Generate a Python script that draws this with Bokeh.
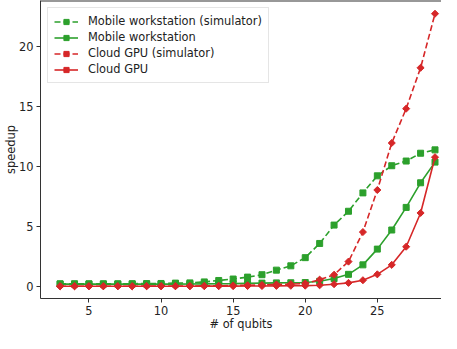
import math
from bokeh.plotting import figure
from bokeh.models import Range1d, FixedTicker, Legend, LegendItem, Span
from bokeh.embed import file_html
from bokeh.resources import INLINE

qubits = list(range(3, 30))
mobile_sim = [0.22, 0.22, 0.22, 0.22, 0.22, 0.23, 0.24, 0.25, 0.28, 0.30, 0.38, 0.50, 0.62,
              0.78, 0.98, 1.36, 1.72, 2.40, 3.58, 5.11, 6.26, 7.79, 9.21, 10.05, 10.44, 11.09, 11.37]
mobile = [0.20, 0.20, 0.20, 0.20, 0.20, 0.20, 0.20, 0.20, 0.20, 0.21, 0.22, 0.23, 0.24,
          0.26, 0.28, 0.30, 0.31, 0.33, 0.43, 0.66, 1.01, 1.80, 3.11, 4.70, 6.58, 8.63, 10.35]
cloud_sim = [0.02, 0.02, 0.02, 0.02, 0.02, 0.02, 0.03, 0.03, 0.03, 0.04, 0.05, 0.06, 0.08,
             0.10, 0.13, 0.17, 0.20, 0.25, 0.57, 0.98, 2.07, 4.53, 8.03, 11.94, 14.80, 18.20, 22.70]
cloud = [0.02, 0.02, 0.02, 0.02, 0.02, 0.02, 0.02, 0.02, 0.02, 0.02, 0.03, 0.03, 0.03,
         0.04, 0.04, 0.05, 0.06, 0.07, 0.10, 0.19, 0.30, 0.52, 1.01, 1.80, 3.31, 6.12, 10.76]
x_ticks = [5, 10, 15, 20, 25, 30]
y_ticks = [0, 5, 10, 15, 20]
x_label = "# of qubits"
y_label = "speedup"

GREEN = "#2ca02c"
RED = "#d62728"
FONT = "DejaVu Sans"
TXT = "#222222"
X0, X1 = 1.64, 29.45
Y0, Y1 = -1.0, 23.8

p = figure(width=441, height=333, output_backend="svg", toolbar_location=None,
           x_range=Range1d(X0, X1), y_range=Range1d(Y0, Y1),
           min_border_left=40, min_border_right=0, min_border_top=0, min_border_bottom=30)
p.xgrid.visible = False
p.ygrid.visible = False
p.outline_line_color = None
p.background_fill_color = "white"
p.border_fill_color = "white"

# top spine (the right spine is cut off in the reference)
p.add_layout(Span(location=Y1, dimension="width", line_color="#333333", line_width=2))

items = []
series = [
    ("Mobile workstation (simulator)", mobile_sim, GREEN, "6 3", 6, 0.0),
    ("Mobile workstation", mobile, GREEN, "solid", 6, 0.0),
    ("Cloud GPU (simulator)", cloud_sim, RED, "6 3", 5, math.pi / 4),
    ("Cloud GPU", cloud, RED, "solid", 5, math.pi / 4),
]
for label, ys, col, dash, size, ang in series:
    r1 = p.line(qubits, ys, line_color=col, line_width=1.6, line_dash=dash)
    r2 = p.scatter(qubits, ys, marker="square", size=size, angle=ang,
                   fill_color=col, line_color=col)
    items.append(LegendItem(label=label, renderers=[r1, r2]))

legend = Legend(items=items, location="top_left")
legend.label_text_font = FONT
legend.label_text_font_size = "11.4px"
legend.label_text_color = TXT
legend.label_height = 13
legend.glyph_height = 13
legend.glyph_width = 24
legend.spacing = 2
legend.padding = 6
legend.margin = 7
legend.label_standoff = 10
legend.border_line_color = "#cccccc"
legend.border_line_width = 1
legend.background_fill_alpha = 0.8
p.add_layout(legend)

for ax in (p.xaxis[0], p.yaxis[0]):
    ax.major_label_text_font = FONT
    ax.major_label_text_font_size = "11.4px"
    ax.major_label_text_color = TXT
    ax.major_label_text_line_height = 1.0
    ax.axis_label_text_font = FONT
    ax.axis_label_text_font_size = "11.4px"
    ax.axis_label_text_font_style = "normal"
    ax.axis_label_text_color = TXT
    ax.axis_label_text_line_height = 1.0
    ax.minor_tick_line_color = None
    ax.major_tick_out = 4
    ax.major_tick_in = 0
    ax.axis_line_color = "#333333"
    ax.major_tick_line_color = "#333333"
    ax.major_label_standoff = 3

p.xaxis.ticker = FixedTicker(ticks=x_ticks)
p.yaxis.ticker = FixedTicker(ticks=y_ticks)
p.xaxis.axis_label = x_label
p.xaxis.axis_label_standoff = -1
p.yaxis.axis_label = y_label
p.yaxis.axis_label_standoff = -2

open("out.html", "w").write(file_html(p, INLINE))
